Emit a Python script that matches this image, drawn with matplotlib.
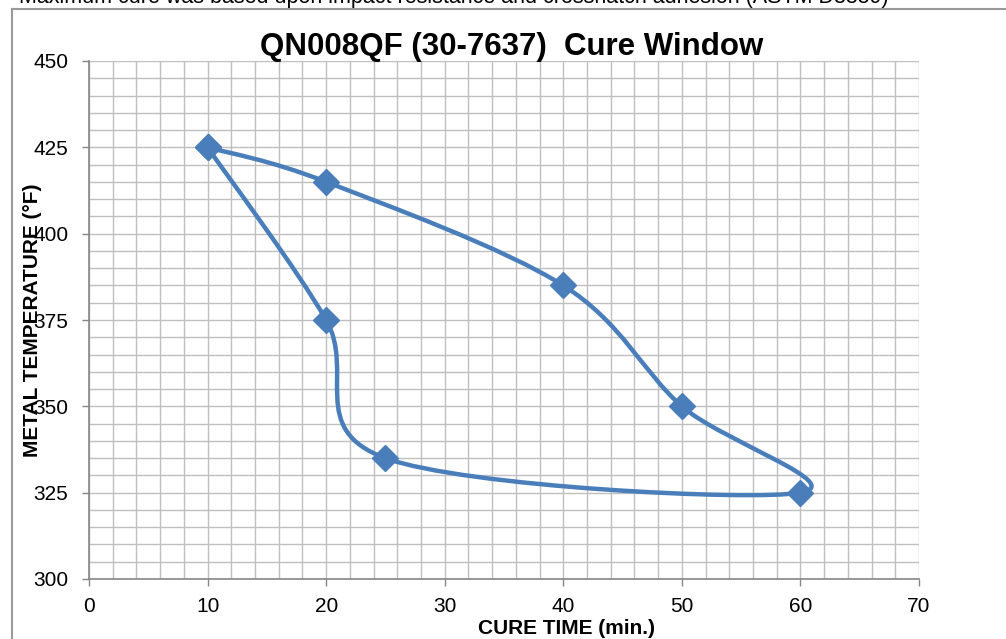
import matplotlib
matplotlib.use("Agg")
import matplotlib.pyplot as plt
from matplotlib.path import Path
from matplotlib.patches import PathPatch
from matplotlib.lines import Line2D
import numpy as np

plt.rcParams['font.family'] = ['Liberation Sans', 'DejaVu Sans']

cure_time = [10, 20, 40, 50, 60, 25, 20, 10]
metal_temp = [425, 415, 385, 350, 325, 335, 375, 425]
x_ticks = [0, 10, 20, 30, 40, 50, 60, 70]
y_ticks = [300, 325, 350, 375, 400, 425, 450]
title = "QN008QF (30-7637)  Cure Window"
note = "Maximum cure was based upon impact resistance and crosshatch adhesion (ASTM D3359)"
xlabel = "CURE TIME (min.)"
ylabel = "METAL TEMPERATURE (\u00b0F)"

blue = '#4A7EBB'

fig = plt.figure(figsize=(10.06, 6.39), dpi=100)
ax = fig.add_axes([89/1006, 1-579/639, 830/1006, 518/639])

# Smoothed line (Excel-style Bezier through points)
pts = np.column_stack([cure_time, metal_temp]).astype(float)
n = len(pts)
verts = [tuple(pts[0])]
codes = [Path.MOVETO]
for i in range(n - 1):
    p0 = pts[i - 1] if i > 0 else pts[i]
    p1 = pts[i]
    p2 = pts[i + 1]
    p3 = pts[i + 2] if i + 2 < n else pts[i + 1]
    c1 = p1 + (p2 - p0) / 6.0
    c2 = p2 - (p3 - p1) / 6.0
    verts += [tuple(c1), tuple(c2), tuple(p2)]
    codes += [Path.CURVE4] * 3
path = Path(verts, codes)
ax.add_patch(PathPatch(path, facecolor='none', edgecolor=blue, lw=3.2,
                       capstyle='round', joinstyle='round', zorder=3))
ax.plot(cure_time, metal_temp, linestyle='none', marker='D', markersize=13,
        color=blue, zorder=4)

ax.set_xlim(0, 70)
ax.set_ylim(300, 450)
ax.set_xticks(x_ticks)
ax.set_yticks(y_ticks)
ax.set_xticks(np.arange(0, 71, 2), minor=True)
ax.set_yticks(np.arange(300, 451, 5), minor=True)
ax.grid(True, which='both', color='#BFBFBF', lw=1.0, zorder=0)
ax.set_axisbelow(True)
ax.tick_params(which='minor', length=0)
ax.tick_params(which='major', length=5, width=1, color='#868686', direction='out',
               labelsize=15)
ax.tick_params(axis='y', pad=10)
ax.tick_params(axis='x', pad=8)
for side in ['top', 'right']:
    ax.spines[side].set_visible(False)
for side in ['left', 'bottom']:
    ax.spines[side].set_color('#868686')
    ax.spines[side].set_linewidth(1.2)

fig.text(567/1006, 1-629/639, xlabel, fontsize=15, fontweight='bold',
         ha='center', va='center')
fig.text(33/1006, 1-320/639, ylabel, fontsize=15, fontweight='bold',
         ha='center', va='center', rotation=90)

fig.text(512/1006, 1-47/639, title, fontsize=22.5, fontweight='bold',
         ha='center', va='center')
fig.text(19/1006, 1-3/639, note, fontsize=15.5, ha='left', va='baseline')

# outer chart border
fig.add_artist(Line2D([12/1006, 12/1006], [-0.1, 1-9/639], color='#9A9A9A', lw=1.5,
                      transform=fig.transFigure))
fig.add_artist(Line2D([12/1006, 1.1], [1-9/639, 1-9/639], color='#9A9A9A', lw=1.5,
                      transform=fig.transFigure))

fig.savefig('out.png', dpi=100)
